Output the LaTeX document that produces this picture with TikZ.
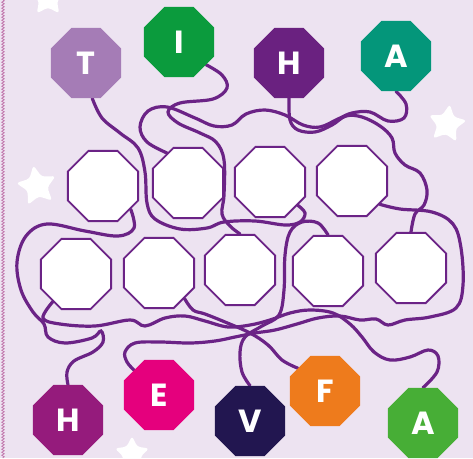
\documentclass[tikz,border=0pt]{standalone}
\usepackage{fontspec}
\newfontfamily\letterfont{Poppins}
\usetikzlibrary{shapes.geometric, decorations.pathmorphing}
\definecolor{Paper}{HTML}{EDE3F1}
\definecolor{Wire}{HTML}{6B2386}
\definecolor{Border}{HTML}{C27AAE}
\definecolor{LetterT}{HTML}{A57CB6}
\definecolor{LetterI}{HTML}{0B9B3D}
\definecolor{LetterH}{HTML}{6A2180}
\definecolor{LetterA}{HTML}{04967A}
\definecolor{LetterHH}{HTML}{951B7C}
\definecolor{LetterE}{HTML}{E5007D}
\definecolor{LetterV}{HTML}{221650}
\definecolor{LetterF}{HTML}{EE7B1C}
\definecolor{LetterAA}{HTML}{47AE36}
\pgfdeclarelayer{bg}
\pgfdeclarelayer{wires}
\pgfsetlayers{bg,wires,main}
\tikzset{
  octo/.style={regular polygon, regular polygon sides=8, minimum size=76pt, inner sep=0pt},
  letter/.style={octo, fill=#1, text=white, font=\letterfont\bfseries\fontsize{32}{32}\selectfont},
  slot/.style={octo, fill=white, draw=Wire, line width=1.9pt},
  wire/.style={draw=Wire, line width=3.2pt, line cap=round},
  twinkle/.style={star, star points=5, star point ratio=2, fill=white, rounded corners=3pt, inner sep=0pt}
}
\begin{document}
\begin{tikzpicture}[x=1pt, y=-1pt]

\useasboundingbox (0,0) rectangle (473,458);

\begin{pgfonlayer}{bg}
  \fill[Paper] (0,0) rectangle (473,458);
  \draw[Border, line width=0.8pt, decorate, decoration={zigzag, amplitude=1.2pt, segment length=3pt}] (3,0) -- (3,458);
  \node[twinkle, minimum size=38pt] at (48,-2) {};
  \node[twinkle, minimum size=42pt, rotate=10] at (37,186) {};
  \node[twinkle, minimum size=40pt, rotate=-8] at (447,124) {};
  \node[twinkle, minimum size=36pt] at (132,454) {};
\end{pgfonlayer}

\node[letter=LetterT] (T) at (86,63) {T};
\node[letter=LetterI] (I) at (179,42) {I};
\node[letter=LetterH] (H) at (289,63) {H};
\node[letter=LetterA] (A) at (396,56) {A};

\node[slot] (B1) at (103,186) {};
\node[slot] (B2) at (188,183) {};
\node[slot] (B3) at (270,182) {};
\node[slot] (B4) at (352,181) {};

\node[slot] (C1) at (76,274) {};
\node[slot] (C2) at (159,273) {};
\node[slot] (C3) at (240,270) {};
\node[slot] (C4) at (328,271) {};
\node[slot] (C5) at (411,268) {};

\node[letter=LetterHH] (H2) at (68,420) {H};
\node[letter=LetterE] (E) at (159,395) {E};
\node[letter=LetterV] (V) at (250,421) {V};
\node[letter=LetterF] (F) at (325,391) {F};
\node[letter=LetterAA] (A2) at (423,423) {A};

\begin{pgfonlayer}{wires}
  \draw[wire] plot[smooth, tension=0.6] coordinates {(T.-80) (102,118) (120,133) (138,148) (145,172) (147,203) (155,219) (180,229) (207,228) (224,222) (255,221) (285,225) (300,222) (305,213) (B3.-40)};
  \draw[wire] plot[smooth, tension=0.6] coordinates {(I.-40) (222,75) (227,88) (213,99) (180,103) (168,112) (178,123) (200,133) (216,142) (224,160) (224,195) (222,214) (230,226) (C3.north)};
  \draw[wire] plot[smooth, tension=0.6] coordinates {(B2.125) (147,142) (140,127) (148,111) (167,107) (195,118) (214,126) (232,125) (246,114) (265,110) (285,115) (303,125) (320,127) (338,119) (352,113) (370,112) (388,121) (404,118) (406,104) (A.south)};
  \draw[wire] plot[smooth, tension=0.6] coordinates {(H.south) (290,120) (298,130) (315,132) (332,125) (346,116) (362,117) (380,126) (392,138) (395,153) (405,165) (420,173) (427,190) (424,205) (415,214) (C5.north)};
  \draw[wire] plot[smooth, tension=0.6] coordinates {(B4.-40) (400,209) (432,212) (453,224) (461,248) (463,285) (456,308) (430,317) (405,320) (388,325) (376,319) (360,320) (340,316) (318,318) (297,324) (275,330) (255,333) (235,337) (215,341) (190,343) (160,342) (135,343) (125,352) (127,362) (E.135)};
  \draw[wire] plot[smooth, tension=0.6] coordinates {(A2.north) (437,372) (438,356) (428,350) (410,357) (390,360) (374,352) (362,337) (350,324) (333,313) (310,310) (290,313) (270,320) (250,325) (228,327) (205,321) (185,316) (165,318) (145,326) (130,320) (95,326) (60,324) (43,318) (C1.-130)};
  \draw[wire] plot[smooth, tension=0.6] coordinates {(B1.-40) (134,228) (118,236) (85,231) (47,224) (26,236) (17,262) (21,290) (33,312) (44,324) (48,337) (65,343) (92,338) (101,331) (103,342) (93,352) (74,361) (67,372) (H2.north)};
  \draw[wire] plot[smooth, tension=0.6] coordinates {(V.north) (242,372) (240,352) (245,337) (262,326) (279,315) (284,290) (285,255) (290,232) (302,222) (318,223) (C4.north)};
  \draw[wire] plot[smooth, tension=0.6] coordinates {(F.140) (282,360) (268,345) (250,333) (225,322) (205,314) (193,310) (C2.-45)};
\end{pgfonlayer}

\end{tikzpicture}
\end{document}
